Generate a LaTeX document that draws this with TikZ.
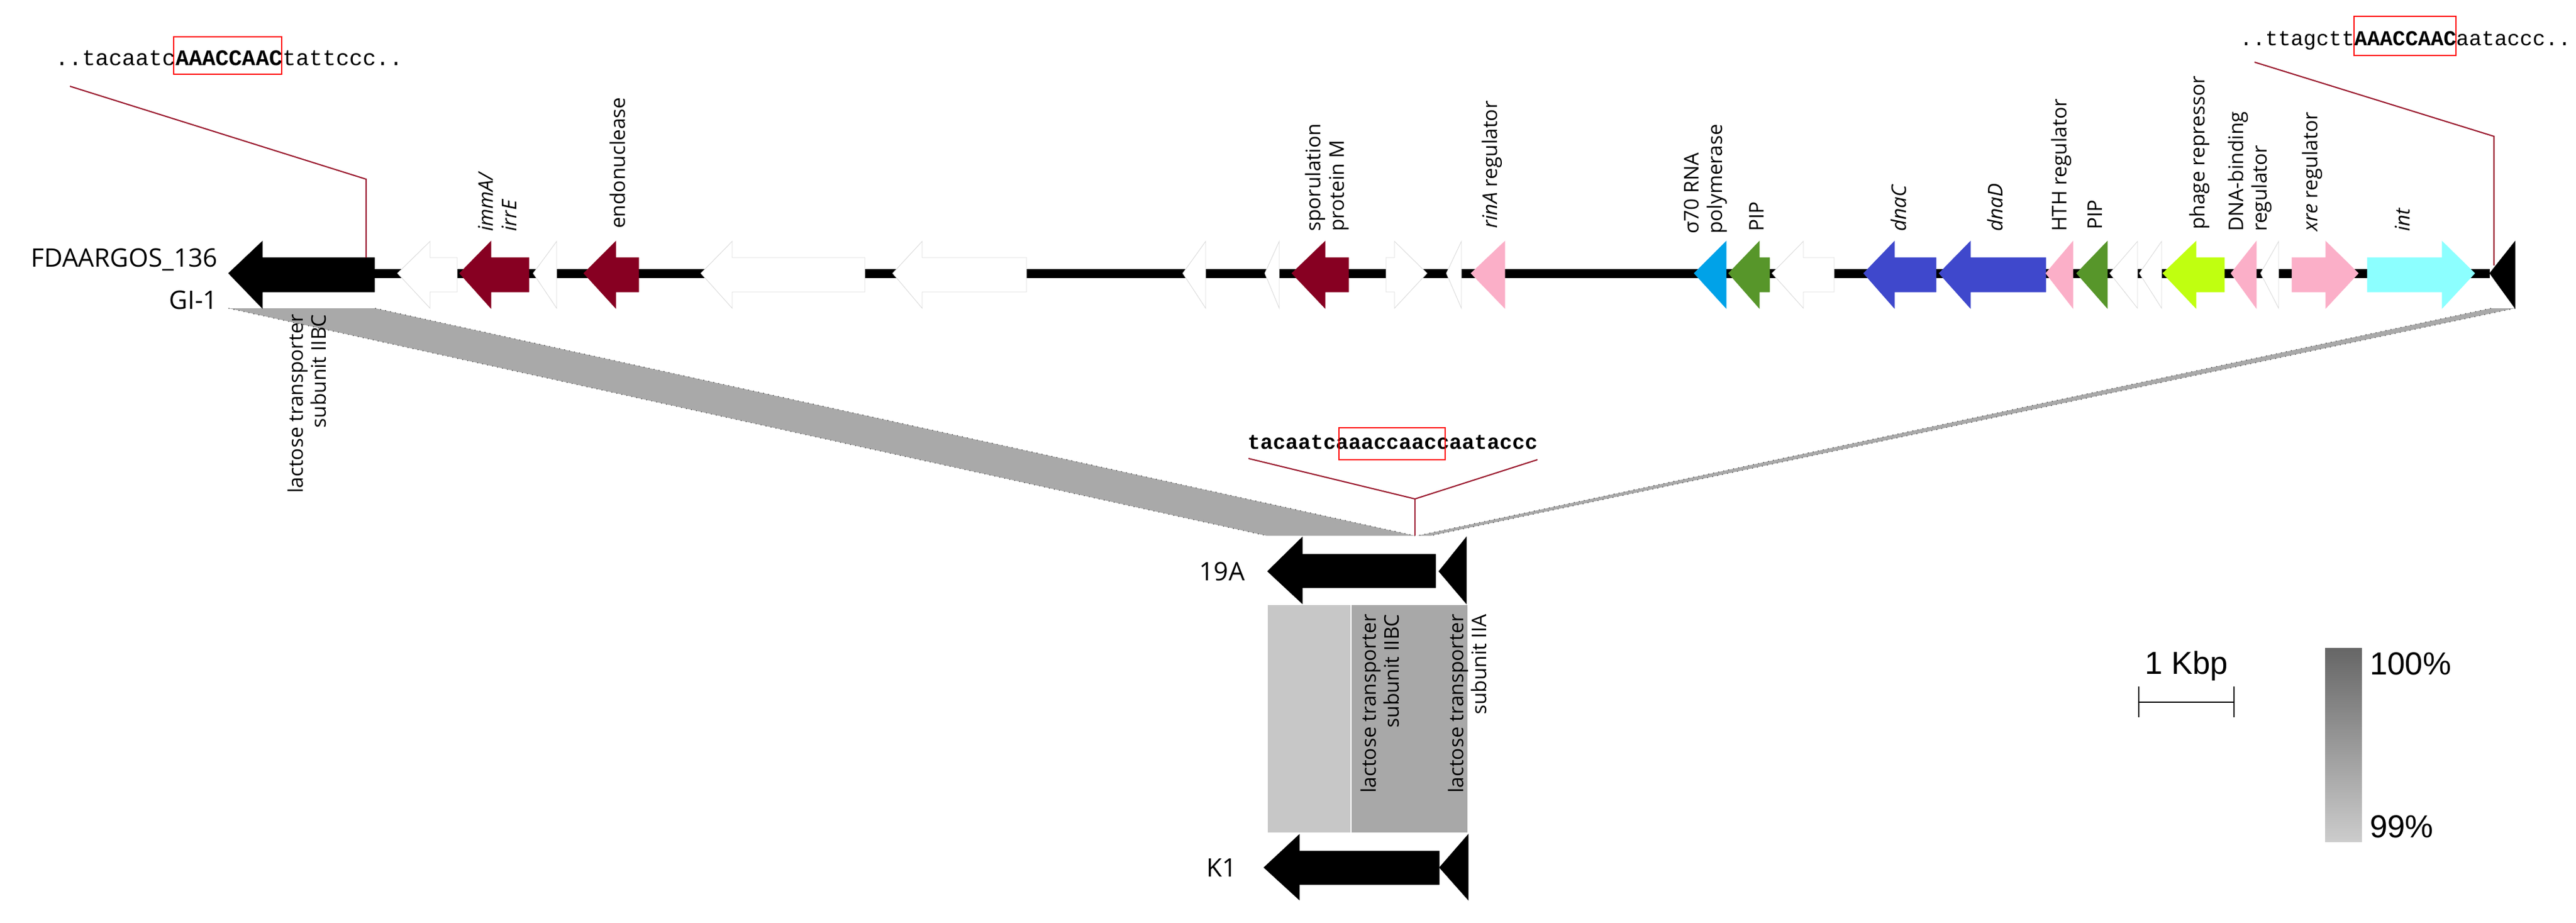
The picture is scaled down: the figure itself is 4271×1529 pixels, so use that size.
\documentclass[tikz,border=0pt]{standalone}
\usepackage{fontspec}
\setmainfont{Open Sans}
\newfontfamily\arialf{Liberation Sans}
\newfontfamily\monof{Liberation Mono}
\definecolor{gred}{HTML}{870022}
\definecolor{gpink}{HTML}{FBAFC8}
\definecolor{gsky}{HTML}{00A2E8}
\definecolor{ggreen}{HTML}{57962A}
\definecolor{gblue}{HTML}{3F48CC}
\definecolor{glime}{HTML}{C0FF10}
\definecolor{gaqua}{HTML}{8CFFFF}
\definecolor{mark}{HTML}{9B1B30}
\definecolor{band}{HTML}{A9A9A9}
% reverse gene: tip, head base, shaft end, style
\newcommand\rgene[4]{\filldraw[gene,#4] (#1,453) -- (#2,400) -- (#2,427) -- (#3,427) -- (#3,484) -- (#2,484) -- (#2,511) -- cycle;}
% forward gene: shaft start, head base, tip, style
\newcommand\fgene[4]{\filldraw[gene,#4] (#3,453) -- (#2,400) -- (#2,427) -- (#1,427) -- (#1,484) -- (#2,484) -- (#2,511) -- cycle;}
\begin{document}
\begin{tikzpicture}[x=0.01cm,y=-0.01cm,
  gene/.style={draw=gray!30,line width=0.25pt,fill=white},
  up/.style={rotate=90,anchor=west,align=left,inner sep=1pt,font=\fontsize{9.5}{11}\selectfont},
  down/.style={rotate=90,anchor=east,align=right,inner sep=1pt,font=\fontsize{9.5}{11}\selectfont},
  tname/.style={anchor=east,inner sep=1pt,font=\fontsize{12}{14}\selectfont},
  seq/.style={inner sep=0pt,font=\monof\fontsize{10.5}{12}\selectfont},
  redline/.style={draw=mark,line width=0.6pt},
  box/.style={draw=red,line width=0.8pt},
  bandedge/.style={draw=black!70,line width=0.4pt,dotted}]
\useasboundingbox (0,0) rectangle (4271,1529);

% alignment bands
\filldraw[fill=band,draw=none] (379,511) -- (622,511) -- (2346,888) -- (2100,888) -- cycle;
\draw[bandedge] (379,511) -- (2100,888);
\draw[bandedge] (622,511) -- (2346,888);
\filldraw[fill=band,draw=none] (4130,511) -- (4170,511) -- (2372,888) -- (2350,888) -- cycle;
\draw[bandedge] (4130,511) -- (2350,888);
\draw[bandedge] (4170,511) -- (2372,888);

% backbone
\draw[line width=0.15cm] (621,453) -- (4128,453);

% genes of GI-1
\rgene{379}{435}{621}{fill=black,draw=black}
\rgene{659}{713}{758}{}
\rgene{762}{814}{877}{fill=gred,draw=gred}
\rgene{884}{923}{923}{}
\rgene{968}{1021}{1059}{fill=gred,draw=gred}
\rgene{1162}{1214}{1434}{}
\rgene{1480}{1529}{1702}{}
\rgene{1961}{1999}{1999}{}
\rgene{2097}{2121}{2121}{}
\rgene{2142}{2197}{2236}{fill=gred,draw=gred}
\fgene{2298}{2312}{2366}{}
\rgene{2398}{2423}{2423}{}
\rgene{2439}{2495}{2495}{fill=gpink,draw=gpink}
\rgene{2809}{2862}{2862}{fill=gsky,draw=gsky}
\rgene{2866}{2917}{2934}{fill=ggreen,draw=ggreen}
\rgene{2938}{2990}{3041}{}
\rgene{3090}{3141}{3210}{fill=gblue,draw=gblue}
\rgene{3215}{3267}{3392}{fill=gblue,draw=gblue}
\rgene{3392}{3437}{3437}{fill=gpink,draw=gpink}
\rgene{3443}{3494}{3494}{fill=ggreen,draw=ggreen}
\rgene{3498}{3544}{3544}{}
\rgene{3547}{3584}{3584}{}
\rgene{3586}{3641}{3688}{fill=glime,draw=glime}
\rgene{3699}{3741}{3741}{fill=gpink,draw=gpink}
\rgene{3748}{3778}{3778}{}
\fgene{3800}{3856}{3910}{fill=gpink,draw=gpink}
\fgene{3925}{4049}{4103}{fill=gaqua,draw=gaqua}
\rgene{4128}{4170}{4170}{fill=black,draw=black}

% names
\node[tname] (fda) at (365,430) {FDAARGOS\_136};
\node[tname] (gi) at (365,497) {GI-1};
\node[tname] (n19) at (2068,947) {19A};
\node[tname] (nk1) at (2055,1438) {K1};

% gene labels
\node[up] (l1) at (825,388) {\itshape immA/\\\itshape irrE};
\node[up] (l2) at (1024,383) {endonuclease};
\node[up] (l3) at (2200,388) {sporulation\\protein M};
\node[up] (l4) at (2474,383) {\itshape rinA\upshape\ regulator};
\node[up] (l5) at (2828,392) {σ70 RNA\\polymerase};
\node[up] (l6) at (2913,388) {PIP};
\node[up] (l7) at (3148,388) {\itshape dnaC};
\node[up] (l8) at (3308,388) {\itshape dnaD};
\node[up] (l9) at (3418,388) {HTH regulator};
\node[up] (l10) at (3474,385) {PIP};
\node[up] (l11) at (3647,385) {phage repressor};
\node[up] (l12) at (3730,388) {DNA-binding\\regulator};
\node[up] (l13) at (3834,388) {\itshape xre\upshape\ regulator};
\node[up] (l14) at (3983,388) {\itshape int};
\node[down] (l15) at (509,517) {lactose transporter\\subunit IIBC};

% insertion sites
\node[seq,anchor=west] (s1) at (91,96) {..tacaatc\textbf{AAACCAAC}tattccc..};
\draw[box] (288,61) rectangle (467,123);
\coordinate (c1a) at (116,143);
\coordinate (c1b) at (607,297);
\coordinate (c1c) at (607,427);
\draw[redline] (c1a) -- (c1b) -- (c1c);

\node[seq,anchor=west,font=\monof\fontsize{10}{12}\selectfont] (s2) at (3713,67) {..ttagctt\textbf{AAACCAAC}aataccc..};
\draw[box] (3903,27) rectangle (4072,92);
\coordinate (c2a) at (3738,103);
\coordinate (c2b) at (4135,226);
\coordinate (c2c) at (4135,440);
\draw[redline] (c2a) -- (c2b) -- (c2c);

\node[seq,anchor=west,font=\monof\bfseries\fontsize{9.9}{12}\selectfont] (s3) at (2068,733) {tacaatcaaaccaaccaataccc};
\draw[box] (2220,709) rectangle (2396,762);
\coordinate (c3a) at (2070,760);
\coordinate (c3b) at (2346,827);
\coordinate (c3c) at (2549,762);
\coordinate (c3d) at (2346,888);
\draw[redline] (c3a) -- (c3b) -- (c3c);
\draw[redline] (c3b) -- (c3d);

% 19A and K1 loci
\filldraw[fill=black] (2102,947) -- (2159,891) -- (2159,919) -- (2380,919) -- (2380,974) -- (2159,974) -- (2159,1000) -- cycle;
\filldraw[fill=black] (2386,947) -- (2431,891) -- (2431,1000) -- cycle;
\fill[black!22] (2102,1003) rectangle (2239,1380);
\fill[black!34] (2241,1003) rectangle (2433,1380);
\filldraw[fill=black] (2096,1438) -- (2154,1384) -- (2154,1411) -- (2386,1411) -- (2386,1466) -- (2154,1466) -- (2154,1491) -- cycle;
\filldraw[fill=black] (2387,1438) -- (2434,1384) -- (2434,1491) -- cycle;
\node[down] (l16) at (2288,1014) {lactose transporter\\subunit IIBC};
\node[down] (l17) at (2433,1014) {lactose transporter\\subunit IIA};

% scale bar
\coordinate (sb1) at (3546,1164);
\coordinate (sb2) at (3704,1164);
\draw[line width=0.5pt] (sb1) -- (sb2);
\draw[line width=0.5pt] (3546,1138) -- (3546,1189);
\draw[line width=0.5pt] (3704,1138) -- (3704,1189);
\node[inner sep=0pt,font=\arialf\fontsize{15}{17}\selectfont] (kb) at (3625,1104) {1 Kbp};

% identity legend
\shade[top color=black!60,bottom color=black!20] (3855,1074) rectangle (3916,1395);
\node[anchor=west,inner sep=1pt,font=\arialf\fontsize{15}{17}\selectfont] (p100) at (3925,1100) {100\%};
\node[anchor=west,inner sep=1pt,font=\arialf\fontsize{15}{17}\selectfont] (p99) at (3925,1370) {99\%};
\end{tikzpicture}
\end{document}
